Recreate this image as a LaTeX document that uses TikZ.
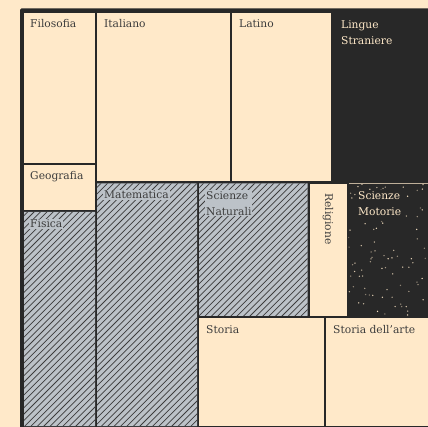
\documentclass[tikz,border=0pt]{standalone}
\usepackage{fontspec}
\setmainfont{DejaVu Serif}
\definecolor{cream}{HTML}{FFE9C9}
\definecolor{darkc}{HTML}{282828}
\definecolor{hgray}{HTML}{BCC2C8}
\definecolor{txt}{HTML}{3C3C3C}
\tikzset{
  lbl/.style={anchor=base west, inner sep=1pt, text=txt, font=\fontsize{10.7}{16}\selectfont, align=left},
  lblh/.style={lbl, fill=hgray},
  lbld/.style={lbl, text=cream, fill=darkc},
  hatchline/.style={draw=txt, line width=0.75pt},
}
\begin{document}
\begin{tikzpicture}[x=1pt,y=-1pt]
\useasboundingbox (0,0) rectangle (428,427);
\clip (0,0) rectangle (428,427);
\fill[cream] (0,0) rectangle (428,427);
% frame
\fill[darkc, rounded corners=1.5pt] (20,8.5) rectangle (445,445);
% cream cells
\fill[cream] (24,13) rectangle (95,163);      % Filosofia
\fill[cream] (24,165) rectangle (95,210);     % Geografia
\fill[cream] (97,13) rectangle (229.5,181.5); % Italiano
\fill[cream] (232,13) rectangle (331,181.5);  % Latino
\fill[cream] (309.5,184) rectangle (347,316); % Religione
\fill[cream] (199,318.5) rectangle (324,426); % Storia
\fill[cream] (326,318.5) rectangle (430,426); % Storia dell'arte
% hatched cells
\begin{scope}
  \clip (24,212) rectangle (95,426)
        (97,183.5) rectangle (197,426)
        (199,183.5) rectangle (307.5,316);
  \fill[hgray] (0,0) rectangle (428,427);
  \foreach \i in {-440,-433.6,...,440} {
    \draw[hatchline] (\i,430) -- ++(430,-430);
  }
\end{scope}
% Scienze Motorie dots
\begin{scope}
  \clip (348.5,184) rectangle (430,316);
  \pgfmathsetseed{4242}
  \foreach \k in {1,...,95} {
    \pgfmathsetmacro\dx{348+82*rnd}
    \pgfmathsetmacro\dy{184+132*rnd}
    \pgfmathsetmacro\op{0.4+0.6*rnd}
    \fill[cream, opacity=\op] (\dx,\dy) circle (0.75);
  }
\end{scope}
\draw[cream!70!darkc, line width=0.8pt] (348.5,183.6) -- (430,183.6);
% labels
\node[lbl]  (filosofia) at (29,28) {Filosofia};
\node[lbl]  (italiano)  at (103,28) {Italiano};
\node[lbl]  (latino)    at (238,28) {Latino};
\node[lbld, anchor=north west] (lingue) at (340,19) {Lingue\\Straniere};
\node[lbl]  (geografia) at (29,180) {Geografia};
\node[lblh] (matematica) at (103,199) {Matematica};
\node[lblh, anchor=north west] (scnat) at (205,190) {Scienze\\Naturali};
\node[lblh] (fisica)    at (29,228) {Fisica};
\node[lbl, rotate=-90] (religione) at (325,192) {Religione};
\node[lbld, anchor=north west] (scmot) at (357,190) {Scienze\\Motorie};
\node[lbl]  (storia)    at (205,334) {Storia};
\node[lbl]  (storiaarte) at (332,334) {Storia dell’arte};
\end{tikzpicture}
\end{document}
